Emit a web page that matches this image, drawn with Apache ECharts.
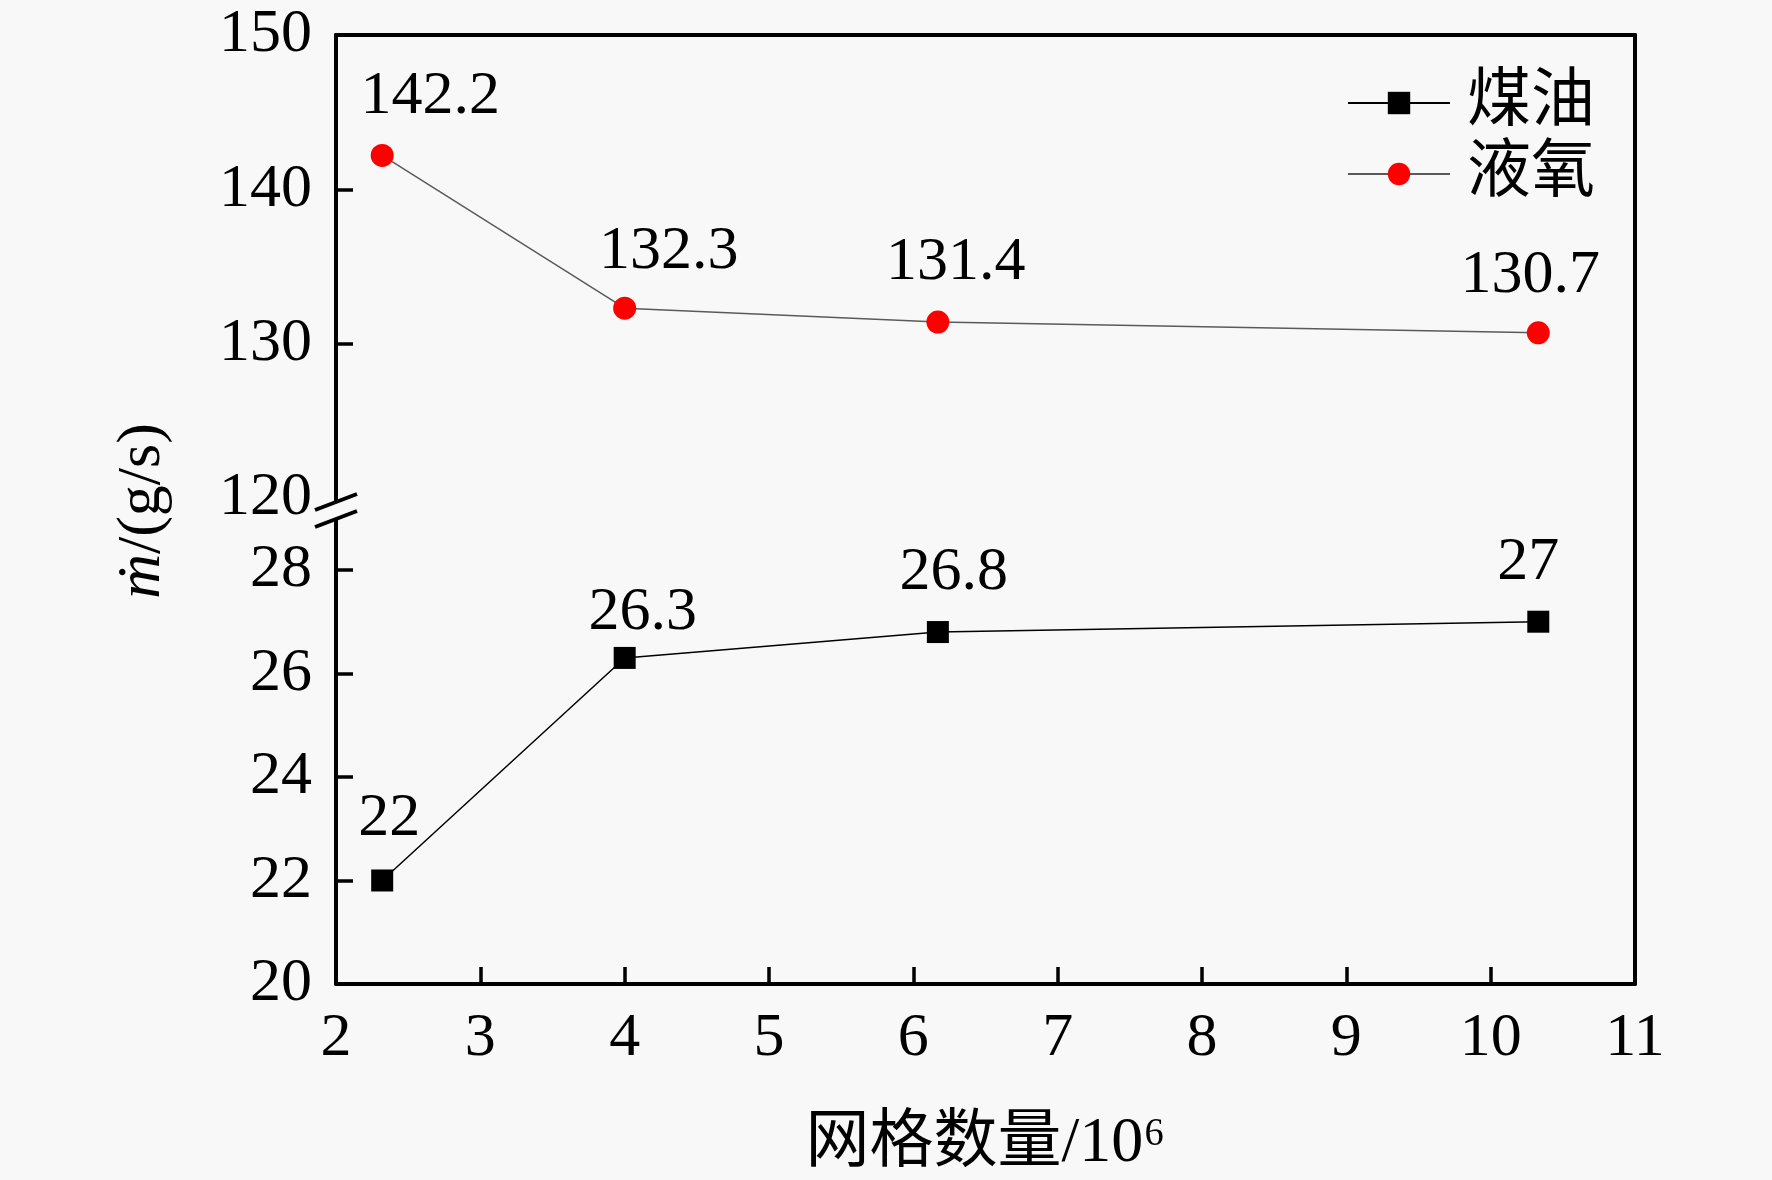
<!DOCTYPE html>
<html>
<head>
<meta charset="utf-8">
<script src="https://cdn.jsdelivr.net/npm/echarts@6/dist/echarts.min.js"></script>
<style>
  html, body { margin: 0; padding: 0; background: #f8f8f8; }
  #chart { width: 1772px; height: 1180px; }
</style>
</head>
<body>
<div id="chart"></div>
<script>
// 网格数量 (10^6)
var gridCells = [2.32, 4.0, 6.17, 10.33];
// 质量流量 g/s
var keroseneFlow = [22, 26.3, 26.8, 27];
var loxFlow = [142.2, 132.3, 131.4, 130.7];
var seriesNames = ['煤油', '液氧'];
var upperTicks = [130, 140];
var upperLabels = [120, 130, 140, 150];
var lowerTicks = [22, 24, 26, 28];
var lowerLabels = [20, 22, 24, 26, 28];

// label nudges (px), not data
var loxLabelShift = [[48, 0], [44, 2], [18, -1], [-8, 1]];
var keroseneLabelShift = [[7, -4], [18, 13], [16, -1], [-10, -1]];

var serif = "'Liberation Serif', 'Times New Roman', 'Noto Sans CJK SC', serif";
var bg = '#f8f8f8';

function points(ys, shifts) {
    var out = [], i;
    for (i = 0; i < ys.length; i++) {
        out.push({
            value: [gridCells[i], ys[i]],
            label: { offset: shifts[i] }
        });
    }
    return out;
}

function frameAxis(extra) {
    var a = {
        axisLine: { show: true, lineStyle: { color: '#000', width: 4 } },
        axisTick: { show: false },
        axisLabel: { show: false },
        splitLine: { show: false }
    };
    for (var k in extra) a[k] = extra[k];
    return a;
}

var chart = echarts.init(document.getElementById('chart'));

var tickStyle = { show: true, inside: true, length: 17, lineStyle: { color: '#000', width: 3.5 } };
var labelFont = { color: '#000', fontFamily: serif, fontSize: 62 };

var option = {
    backgroundColor: bg,
    animation: false,
    grid: [
        { left: 336, right: 137, top: 35, height: 463 },
        { left: 336, right: 137, top: 498, bottom: 196 }
    ],
    legend: {
        orient: 'vertical',
        left: 1342,
        top: 66,
        itemWidth: 102,
        itemHeight: 28,
        itemGap: 7,
        data: seriesNames,
        textStyle: { color: '#000', fontFamily: serif, fontSize: 64, padding: [0, 0, 0, 12] }
    },
    xAxis: [
        frameAxis({ gridIndex: 0, type: 'value', min: 2, max: 11, position: 'top' }),
        {
            gridIndex: 1, type: 'value', min: 2, max: 11, interval: 1, position: 'bottom',
            axisLine: { show: true, onZero: false, lineStyle: { color: '#000', width: 4 } },
            axisTick: tickStyle,
            axisLabel: Object.assign({ margin: 24 }, labelFont),
            splitLine: { show: false },
            name: '网格数量/10⁶',
            nameLocation: 'middle',
            nameGap: 128,
            nameTextStyle: { color: '#000', fontFamily: serif, fontSize: 64 }
        }
    ],
    yAxis: [
        {
            gridIndex: 0, type: 'value', min: 120, max: 150, interval: 10,
            axisLine: { show: true, lineStyle: { color: '#000', width: 4 } },
            axisTick: Object.assign({ customValues: upperTicks }, tickStyle),
            axisLabel: Object.assign({ margin: 24, customValues: upperLabels }, labelFont),
            splitLine: { show: false }
        },
        frameAxis({ gridIndex: 0, type: 'value', min: 120, max: 150, position: 'right' }),
        {
            gridIndex: 1, type: 'value', min: 20, max: 29.39, interval: 2,
            axisLine: { show: true, lineStyle: { color: '#000', width: 4 } },
            axisTick: Object.assign({ customValues: lowerTicks }, tickStyle),
            axisLabel: Object.assign({ margin: 24, customValues: lowerLabels }, labelFont),
            splitLine: { show: false }
        },
        frameAxis({ gridIndex: 1, type: 'value', min: 20, max: 29.39, position: 'right' })
    ],
    series: [
        {
            name: seriesNames[0],
            type: 'line',
            xAxisIndex: 1,
            yAxisIndex: 2,
            symbol: 'rect',
            symbolSize: 22,
            itemStyle: { color: '#000' },
            lineStyle: { color: '#000', width: 1.5 },
            label: {
                show: true, position: 'top', distance: 16,
                color: '#000', fontFamily: serif, fontSize: 62,
                formatter: function(p) { return p.value[1]; }
            },
            data: points(keroseneFlow, keroseneLabelShift)
        },
        {
            name: seriesNames[1],
            type: 'line',
            xAxisIndex: 0,
            yAxisIndex: 0,
            symbol: 'circle',
            symbolSize: 23,
            itemStyle: { color: '#ff0000' },
            lineStyle: { color: '#5a5a5a', width: 1.5 },
            label: {
                show: true, position: 'top', distance: 16,
                color: '#000', fontFamily: serif, fontSize: 62,
                formatter: function(p) { return p.value[1]; }
            },
            data: points(loxFlow, loxLabelShift)
        }
    ]
};

chart.setOption(option);

// y title and axis-break marks
var bx = chart.convertToPixel({ xAxisIndex: 0 }, 2);
var by = chart.convertToPixel({ yAxisIndex: 0 }, 120);
var u = by + 4, l = by + 21, s = 16 / 42;

chart.setOption({
    graphic: [
        {
            type: 'polygon',
            shape: { points: [[bx - 7, u + 7 * s], [bx + 7, u - 7 * s], [bx + 7, l - 7 * s], [bx - 7, l + 7 * s]] },
            style: { fill: bg },
            z: 100
        },
        {
            type: 'line',
            shape: { x1: bx - 21, y1: u + 21 * s, x2: bx + 21, y2: u - 21 * s },
            style: { stroke: '#000', lineWidth: 4 },
            z: 101
        },
        {
            type: 'line',
            shape: { x1: bx - 21, y1: l + 21 * s, x2: bx + 21, y2: l - 21 * s },
            style: { stroke: '#000', lineWidth: 4 },
            z: 101
        },
        {
            type: 'text',
            x: 143,
            y: 511,
            rotation: Math.PI / 2,
            style: {
                text: '{i|ṁ}/(g/s)',
                align: 'center',
                verticalAlign: 'middle',
                fill: '#000',
                font: '62px ' + serif,
                rich: {
                    i: { fontStyle: 'italic', fontFamily: serif, fontSize: 62, fill: '#000' }
                }
            }
        }
    ]
});
</script>
</body>
</html>
